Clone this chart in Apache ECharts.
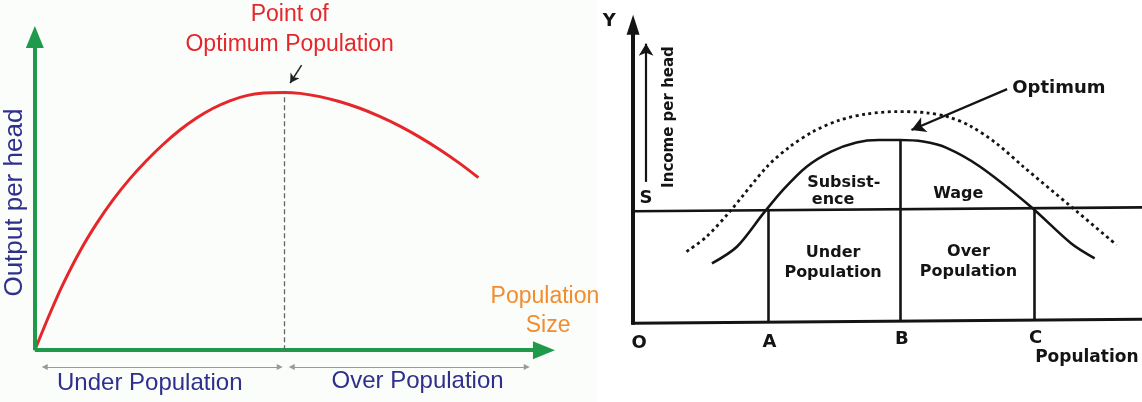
<!DOCTYPE html>
<html><head><meta charset="utf-8">
<script src="https://cdn.jsdelivr.net/npm/echarts@6/dist/echarts.min.js"></script>
<style>html,body{margin:0;padding:0;background:#fff}#c{width:1142px;height:402px}</style>
</head><body><div id="c"></div>
<script>
// ---------- Left panel data (Output per head vs Population size) ----------
const leftCurveX = [0, 2.9, 5.4, 8.7, 11.9, 15.1, 18.3, 21.5, 24.7, 27.9, 31.1, 34.3, 37.5, 40.7, 44.0, 48.0, 51.0, 54.8, 58.7, 62.5, 66.3, 70.2, 74.0, 77.9, 81.7, 85.3];
const leftCurveY = [0, 11.3, 20.3, 30.6, 39.1, 46.5, 52.9, 58.5, 63.5, 67.9, 71.6, 74.6, 76.9, 78.5, 79.3, 79.5, 79.2, 78.2, 76.6, 74.6, 72.1, 69.1, 65.7, 61.8, 57.6, 53.2];
const leftOptimumX = 48.0;
const leftOptimumY = 79.5;
const leftTitle = ['Point of', 'Optimum Population'];
const leftYName = 'Output per head';
const leftXName = ['Population', 'Size'];
const leftRanges = ['Under Population', 'Over Population'];

// ---------- Right panel data (Income per head vs Population) ----------
const solidX = [15.5, 20.4, 25.6, 29.6, 34.1, 38.9, 43.9, 48.3, 52.4, 57.0, 61.5, 68.2, 78.1, 86.1, 90.7];
const solidY = [19.7, 25.2, 36.2, 44.2, 51.6, 56.6, 59.6, 60.4, 60.4, 59.9, 57.9, 51.6, 38.5, 26.3, 21.4];
const dottedX = [10.5, 14.4, 19.0, 26.3, 30.8, 35.4, 40.6, 45.9, 51.8, 57.7, 62.0, 66.2, 71.4, 76.7, 86.1, 95.0];
const dottedY = [23.6, 28.5, 36.8, 51.6, 58.2, 63.2, 67.0, 69.0, 69.8, 69.4, 68.0, 65.1, 59.3, 51.6, 38.4, 25.8];
const subsistenceLevel = 37.3;
const pointPositions = [0, 26.5, 52.5, 78.8];
const pointLabels = ['O', 'A', 'B', 'C'];
const rightYName = 'Y';
const rightIncomeName = 'Income per head';
const rightSName = 'S';
const rightOptimumName = 'Optimum';
const rightXName = 'Population';
const rightRegions = ['Subsist-', 'ence', 'Wage', 'Under', 'Population', 'Over', 'Population'];

const zip = (a, b) => a.map((v, i) => [v, b[i]]);

const GREEN = '#1f9a4a', RED = '#e5262b', NAVY = '#2f2f8c', ORANGE = '#f28c2c', INK = '#141414';
const LF = 'Liberation Sans, Arial, sans-serif';
const RF = 'DejaVu Sans, sans-serif';

function lbl(x, y, text, style) {
  return { value: [x, y], label: Object.assign({ show: true, position: 'inside', formatter: text, opacity: 1 }, style) };
}
function seg(a, b, s0, s1, size0, size1, ls) {
  return [
    { coord: a, symbol: s0 || 'none', symbolSize: size0 || 1, lineStyle: ls },
    { coord: b, symbol: s1 || 'none', symbolSize: size1 || 1, lineStyle: ls }
  ];
}

const leftText = { fontFamily: LF, fontSize: 24 };
const rightText = { fontFamily: RF, fontSize: 16, fontWeight: 'bold', color: INK };

const option = {
  animation: false,
  backgroundColor: '#fff',
  grid: [
    { left: 0, top: 0, width: 598, height: 402, show: true, backgroundColor: '#fbfdfb', borderWidth: 0 },
    { left: 600, top: 0, width: 542, height: 402 }
  ],
  xAxis: [
    { type: 'value', gridIndex: 0, min: -6.7, max: 108.3, show: false },
    { type: 'value', gridIndex: 1, min: -6.5, max: 100, show: false }
  ],
  yAxis: [
    { type: 'value', gridIndex: 0, min: -16, max: 108, show: false },
    { type: 'value', gridIndex: 1, min: -26, max: 106.6, show: false }
  ],
  series: [
    {
      type: 'line', xAxisIndex: 0, yAxisIndex: 0, data: zip(leftCurveX, leftCurveY),
      smooth: 0.3, showSymbol: false, lineStyle: { color: RED, width: 3 }, z: 3,
      markLine: {
        silent: true, symbol: ['none', 'none'], label: { show: false }, z: 4,
        data: [
          seg([0, 0], [0, 96.6], 'none', 'triangle', 1, [18, 22], { color: GREEN, width: 4, type: 'solid' }),
          seg([0, 0], [97.9, 0], 'none', 'triangle', 1, [18, 22], { color: GREEN, width: 4, type: 'solid' }),
          seg([leftOptimumX, 0], [leftOptimumX, leftOptimumY], 'none', 'none', 1, 1, { color: '#666', width: 1.3, type: [5, 3] }),
          seg([51.3, 87.9], [49.1, 82.4], 'none', 'arrow', 1, [8, 9], { color: '#222', width: 1.5, type: 'solid' }),
          seg([1.9, -5.2], [47.1, -5.2], 'triangle', 'triangle', [6, 6], [6, 6], { color: '#999', width: 1, type: 'solid' }),
          seg([49.4, -5.2], [94.6, -5.2], 'triangle', 'triangle', [6, 6], [6, 6], { color: '#999', width: 1, type: 'solid' })
        ]
      }
    },
    {
      type: 'scatter', xAxisIndex: 0, yAxisIndex: 0, symbolSize: 0, silent: true, z: 5,
      itemStyle: { opacity: 1 },
      data: [
        lbl(49.0, 103.4, leftTitle[0], Object.assign({}, leftText, { color: RED, fontSize: 23 })),
        lbl(49.0, 94.2, leftTitle[1], Object.assign({}, leftText, { color: RED, fontSize: 23 })),
        lbl(-3.9, 45.5, leftYName, Object.assign({}, leftText, { color: NAVY, rotate: 90, fontSize: 26 })),
        lbl(98.1, 16.4, leftXName[0], Object.assign({}, leftText, { color: ORANGE, fontSize: 23 })),
        lbl(98.7, 7.4, leftXName[1], Object.assign({}, leftText, { color: ORANGE, fontSize: 23 })),
        lbl(22.1, -10.2, leftRanges[0], Object.assign({}, leftText, { color: NAVY })),
        lbl(73.6, -9.6, leftRanges[1], Object.assign({}, leftText, { color: NAVY }))
      ]
    },
    {
      type: 'line', xAxisIndex: 1, yAxisIndex: 1, data: zip(solidX, solidY),
      smooth: 0.3, showSymbol: false, lineStyle: { color: INK, width: 2.6 }, z: 3,
      markLine: {
        silent: true, symbol: ['none', 'none'], label: { show: false }, z: 4,
        data: [
          seg([0, -0.5], [0, 98.4], 'none', 'triangle', 1, [13, 20], { color: INK, width: 4, type: 'solid' }),
          seg([-0.3, 0], [100, 1.3], 'none', 'none', 1, 1, { color: INK, width: 3, type: 'solid' }),
          seg([0, subsistenceLevel - 0.4], [100, subsistenceLevel + 0.9], 'none', 'none', 1, 1, { color: INK, width: 2.6, type: 'solid' }),
          seg([pointPositions[1], 0.3], [pointPositions[1], subsistenceLevel], 'none', 'none', 1, 1, { color: INK, width: 2.6, type: 'solid' }),
          seg([pointPositions[2], 0.6], [pointPositions[2], 60.4], 'none', 'none', 1, 1, { color: INK, width: 2.6, type: 'solid' }),
          seg([pointPositions[3], 1.0], [pointPositions[3], subsistenceLevel + 0.6], 'none', 'none', 1, 1, { color: INK, width: 2.6, type: 'solid' }),
          seg([2.55, 46.6], [2.55, 92.2], 'none', 'arrow', 1, [11, 12], { color: INK, width: 2.2, type: 'solid' }),
          seg([73.5, 77.2], [54.7, 63.7], 'none', 'arrow', 1, [12, 14], { color: INK, width: 2.2, type: 'solid' })
        ]
      }
    },
    {
      type: 'line', xAxisIndex: 1, yAxisIndex: 1, data: zip(dottedX, dottedY),
      smooth: 0.3, showSymbol: false, lineStyle: { color: INK, width: 2.8, type: [3, 3.5] }, z: 3
    },
    {
      type: 'scatter', xAxisIndex: 1, yAxisIndex: 1, symbolSize: 0, silent: true, z: 5,
      itemStyle: { opacity: 1 },
      data: [
        lbl(-4.7, 99.5, rightYName, Object.assign({}, rightText, { fontSize: 18 })),
        lbl(7.1, 68.0, rightIncomeName, Object.assign({}, rightText, { fontSize: 15, rotate: 90 })),
        lbl(2.55, 41.3, rightSName, Object.assign({}, rightText, { fontSize: 18 })),
        lbl(74.5, 77.6, rightOptimumName, Object.assign({}, rightText, { fontSize: 18, position: 'right', distance: 0 })),
        lbl(41.4, 46.3, rightRegions[0], rightText),
        lbl(39.3, 40.6, rightRegions[1], rightText),
        lbl(63.9, 42.6, rightRegions[2], rightText),
        lbl(39.3, 23.1, rightRegions[3], rightText),
        lbl(39.3, 16.6, rightRegions[4], rightText),
        lbl(65.9, 23.5, rightRegions[5], rightText),
        lbl(65.9, 16.9, rightRegions[6], rightText),
        lbl(1.2, -6.5, pointLabels[0], Object.assign({}, rightText, { fontSize: 18 })),
        lbl(pointPositions[1] + 0.3, -6.2, pointLabels[1], Object.assign({}, rightText, { fontSize: 18 })),
        lbl(pointPositions[2] + 0.3, -5.2, pointLabels[2], Object.assign({}, rightText, { fontSize: 18 })),
        lbl(pointPositions[3] + 0.3, -4.9, pointLabels[3], Object.assign({}, rightText, { fontSize: 18 })),
        lbl(79.0, -11.5, rightXName, Object.assign({}, rightText, { fontSize: 17, position: 'right', distance: 0 }))
      ]
    }
  ]
};

const chart = echarts.init(document.getElementById('c'), null, { renderer: 'canvas' });
chart.setOption(option);
</script>
</body></html>
